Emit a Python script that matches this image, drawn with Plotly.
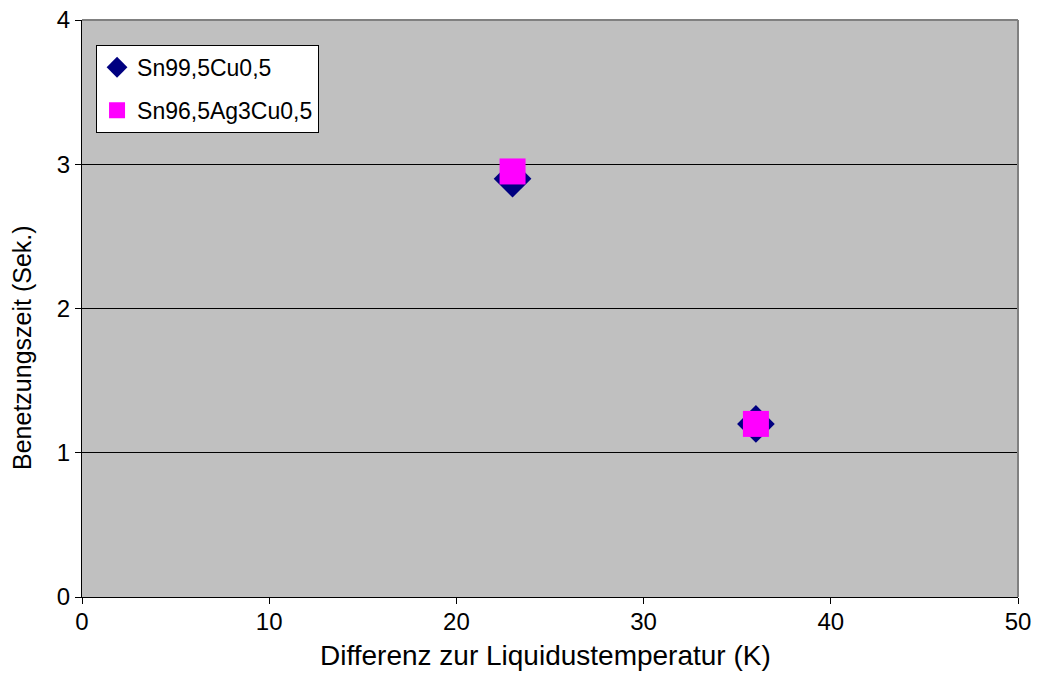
import plotly.graph_objects as go

# Data
series_names = ["Sn99,5Cu0,5", "Sn96,5Ag3Cu0,5"]
x_sn_cu = [23, 36]
y_sn_cu = [2.9, 1.2]
x_sn_ag_cu = [23, 36]
y_sn_ag_cu = [2.95, 1.2]
x_ticks = [0, 10, 20, 30, 40, 50]
y_ticks = [0, 1, 2, 3, 4]
x_title = "Differenz zur Liquidustemperatur (K)"
y_title = "Benetzungszeit (Sek.)"

FONT = "Liberation Sans, Arial, sans-serif"

fig = go.Figure()
fig.add_trace(go.Scatter(
    x=x_sn_cu, y=y_sn_cu, mode="markers", name=series_names[0], legendgroup="a",
    marker=dict(symbol="diamond", size=29, color="#000080", line=dict(width=0)),
))
fig.add_trace(go.Scatter(
    x=x_sn_ag_cu, y=y_sn_ag_cu, mode="markers", name=series_names[1], legendgroup="b",
    marker=dict(symbol="square", size=26, color="#FF00FF", line=dict(width=0)),
))

fig.update_layout(
    width=1037, height=684,
    margin=dict(l=82, r=19, t=20, b=87, autoexpand=False),
    paper_bgcolor="white",
    plot_bgcolor="#C0C0C0",
    font=dict(family=FONT, size=24, color="black"),
    showlegend=True,
    legend=dict(
        x=0.015, y=0.957, xanchor="left", yanchor="top",
        bgcolor="white", bordercolor="black", borderwidth=1,
        font=dict(family=FONT, size=23, color="black"),
        itemwidth=30, traceorder="grouped", tracegroupgap=10,
    ),
    xaxis=dict(
        range=[0, 50], tickvals=x_ticks, ticktext=[str(v) for v in x_ticks],
        showgrid=False, zeroline=False, automargin=False,
        showline=True, linecolor="black", linewidth=1,
        ticks="outside", ticklen=6, tickcolor="black",
        tickfont=dict(size=24), ticklabelstandoff=-3,
    ),
    yaxis=dict(
        range=[0, 4], tickvals=y_ticks, ticktext=[str(v) for v in y_ticks],
        showgrid=True, gridcolor="black", gridwidth=1,
        zeroline=False, automargin=False,
        showline=True, linecolor="black", linewidth=1,
        ticks="outside", ticklen=6, tickcolor="black",
        tickfont=dict(size=24),
    ),
    shapes=[
        dict(type="line", xref="paper", yref="paper", x0=0, x1=1, y0=1, y1=1,
             line=dict(color="#808080", width=2)),
        dict(type="line", xref="paper", yref="paper", x0=1, x1=1, y0=0, y1=1,
             line=dict(color="#808080", width=2)),
    ],
    annotations=[
        dict(text=x_title, xref="paper", yref="paper",
             x=(545 - 82) / 936, y=(597 - 655) / 577,
             xanchor="center", yanchor="middle", showarrow=False,
             font=dict(family=FONT, size=28, color="black")),
        dict(text=y_title, xref="paper", yref="paper",
             x=(22 - 82) / 936, y=(597 - 348) / 577, textangle=-90,
             xanchor="center", yanchor="middle", showarrow=False,
             font=dict(family=FONT, size=25, color="black")),
    ],
)

fig.write_html("out.html")
